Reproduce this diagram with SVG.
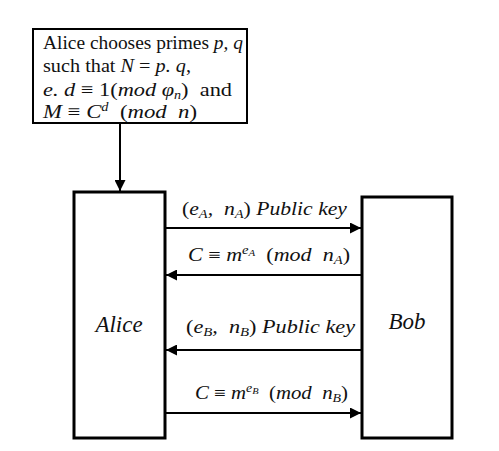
<svg xmlns="http://www.w3.org/2000/svg" width="499" height="451" viewBox="0 0 499 451">
<defs>
<marker id="ah" viewBox="0 0 10 10" refX="10" refY="5" markerWidth="11" markerHeight="11" markerUnits="userSpaceOnUse" orient="auto">
<path d="M0,0 L10,5 L0,10 z" fill="#000"/>
</marker>
<style>
.box{fill:#fff;stroke:#000;stroke-width:3}
.tbox{fill:#fff;stroke:#000;stroke-width:2}
.t{font-family:"Liberation Serif","DejaVu Serif",serif;font-size:19px;fill:#111}
.m{font-style:italic}
.lab{font-family:"Liberation Serif","DejaVu Serif",serif;font-size:18px;font-style:italic;fill:#111}
.big{font-family:"Liberation Serif","DejaVu Serif",serif;font-size:23px;font-style:italic;fill:#111}
.sub{font-size:12px}
.ss{font-size:9px}
.ln{stroke:#000;stroke-width:2;fill:none;marker-end:url(#ah)}
</style>
</defs>
<rect width="499" height="451" fill="#fff"/>
<g id="premise">
<rect class="tbox" x="33" y="29" width="214" height="94"/>
<text class="t" x="43" y="49" textLength="200" lengthAdjust="spacingAndGlyphs">Alice chooses primes <tspan class="m">p, q</tspan></text>
<text class="t" x="43" y="72" textLength="148" lengthAdjust="spacingAndGlyphs">such that <tspan class="m">N</tspan> = <tspan class="m">p. q</tspan>,</text>
<text class="t" x="43" y="96" textLength="189" lengthAdjust="spacingAndGlyphs" xml:space="preserve"><tspan class="m">e. d</tspan> ≡ 1(<tspan class="m">mod φ</tspan><tspan class="m sub" dy="3">n</tspan><tspan dy="-3">)  and</tspan></text>
<text class="t" x="43" y="118" textLength="154" lengthAdjust="spacingAndGlyphs" xml:space="preserve"><tspan class="m">M</tspan> ≡ <tspan class="m">C</tspan><tspan class="m sub" dy="-7">d</tspan><tspan dy="7">  (</tspan><tspan class="m">mod  n</tspan>)</text>
</g>
<g id="alice">
<rect class="box" x="74" y="192" width="91" height="246"/>
<text class="big" x="119" y="332" text-anchor="middle">Alice</text>
</g>
<g id="bob">
<rect class="box" x="362" y="197" width="90" height="241"/>
<text class="big" x="407" y="329" text-anchor="middle">Bob</text>
</g>
<g id="connectors">
<line class="ln" x1="120" y1="123" x2="120" y2="191"/>
<line class="ln" x1="165" y1="228" x2="361" y2="228"/>
<line class="ln" x1="362" y1="275" x2="166" y2="275"/>
<line class="ln" x1="362" y1="350" x2="166" y2="350"/>
<line class="ln" x1="165" y1="413" x2="361" y2="413"/>
</g>
<g id="labels">
<text class="lab" x="182" y="215" textLength="165" lengthAdjust="spacingAndGlyphs" xml:space="preserve"><tspan font-style="normal">(</tspan>e<tspan class="sub" dy="3">A</tspan><tspan dy="-3">,  n</tspan><tspan class="sub" dy="3">A</tspan><tspan dy="-3" font-style="normal">) </tspan>Public key</text>
<text class="lab" x="188" y="261" textLength="162" lengthAdjust="spacingAndGlyphs" xml:space="preserve">C <tspan font-style="normal">≡</tspan> m<tspan class="sub" dy="-7">e</tspan><tspan class="ss" dy="2">A</tspan><tspan dy="5">  </tspan><tspan font-style="normal">(</tspan>mod  n<tspan class="sub" dy="3">A</tspan><tspan dy="-3" font-style="normal">)</tspan></text>
<text class="lab" x="186" y="333" textLength="169" lengthAdjust="spacingAndGlyphs" xml:space="preserve"><tspan font-style="normal">(</tspan>e<tspan class="sub" dy="3">B</tspan><tspan dy="-3">,  n</tspan><tspan class="sub" dy="3">B</tspan><tspan dy="-3" font-style="normal">) </tspan>Public key</text>
<text class="lab" x="195" y="399" textLength="153" lengthAdjust="spacingAndGlyphs" xml:space="preserve">C <tspan font-style="normal">≡</tspan> m<tspan class="sub" dy="-7">e</tspan><tspan class="ss" dy="2">B</tspan><tspan dy="5">  </tspan><tspan font-style="normal">(</tspan>mod  n<tspan class="sub" dy="3">B</tspan><tspan dy="-3" font-style="normal">)</tspan></text>
</g>
</svg>
